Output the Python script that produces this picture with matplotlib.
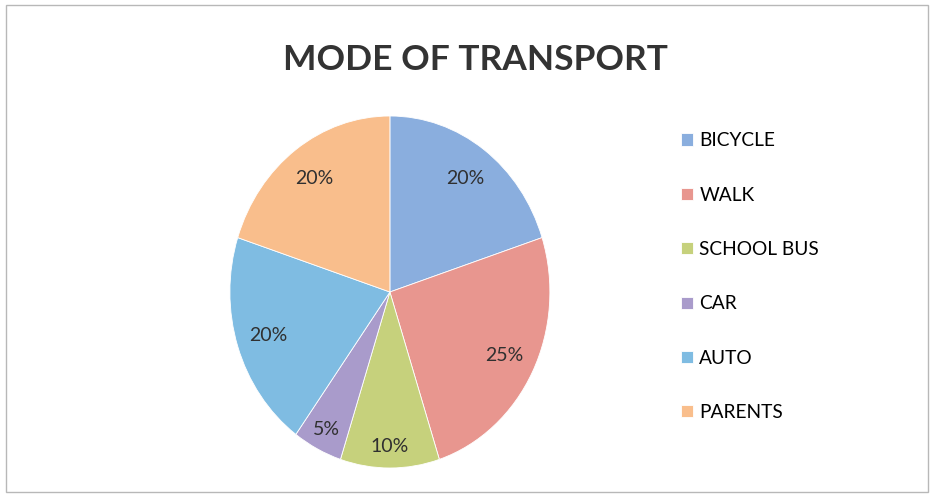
import matplotlib.pyplot as plt
from matplotlib.patches import Rectangle

plt.rcParams['font.family'] = ['Lato', 'DejaVu Sans']

modes = ['BICYCLE', 'WALK', 'SCHOOL BUS', 'CAR', 'AUTO', 'PARENTS']
shares = [20, 25, 10, 5, 20, 20]
colors = ['#8AAEDE', '#E8968F', '#C6D17C', '#A99BCB', '#7FBCE2', '#F9BE8C']

fig = plt.figure(figsize=(9.35, 5), dpi=100)
fig.patches.append(Rectangle((0.006, 0.016), 0.986, 0.974, transform=fig.transFigure,
                             fill=False, edgecolor='#b8b8b8', linewidth=1))

ax = fig.add_axes([0.203, -0.024, 0.428, 0.88])
wedges, texts, autotexts = ax.pie(shares, colors=colors, startangle=90, counterclock=False,
                                  autopct='%d%%', pctdistance=0.8,
                                  wedgeprops={'linewidth': 0.6, 'edgecolor': 'white'},
                                  textprops={'fontsize': 14, 'color': '#303030'})
ax.set_aspect(1.1)
# small slices: labels sit a bit further out, like the original
for t in autotexts[2:4]:
    x, y = t.get_position()
    t.set_position((x * 1.1, y * 1.1))

fig.text(0.508, 0.88, 'MODE OF TRANSPORT', ha='center', va='center',
         fontsize=25.5, fontweight='bold', color='#333333')

leg = fig.legend(wedges, modes, loc='upper left', bbox_to_anchor=(0.71, 0.77),
                 frameon=False, fontsize=13.8, labelspacing=1.95,
                 handlelength=0.6, handleheight=0.6, handletextpad=0.35)

plt.savefig('out.png', dpi=100)
